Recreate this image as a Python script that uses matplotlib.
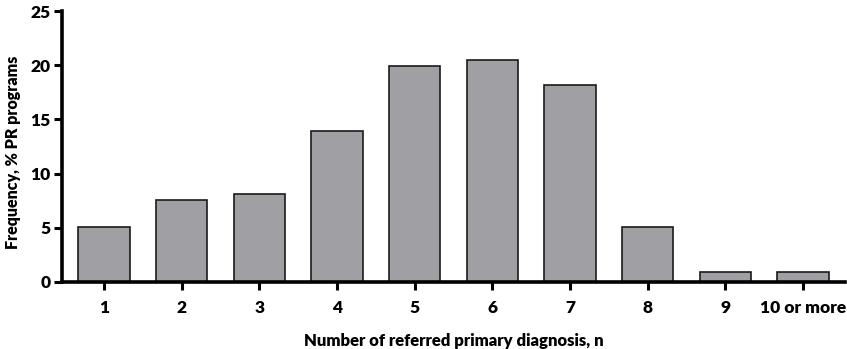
import matplotlib
matplotlib.use("Agg")
import matplotlib.pyplot as plt

categories = ["1", "2", "3", "4", "5", "6", "7", "8", "9", "10 or more"]
frequency = [5.1, 7.6, 8.1, 13.9, 19.9, 20.5, 18.2, 5.1, 0.9, 0.9]
y_ticks = [0, 5, 10, 15, 20, 25]

plt.rcParams["font.family"] = ["Lato", "DejaVu Sans"]
plt.rcParams["font.weight"] = "bold"

fig = plt.figure(figsize=(8.47, 3.49), dpi=100)
ax = fig.add_axes([62 / 847, 67 / 349, 783 / 847, 271 / 349])

positions = list(range(1, len(categories) + 1))
ax.bar(positions, frequency, width=0.66, color="#a09fa4",
       edgecolor="#1a1a1a", linewidth=1.2)

ax.set_xlim(0.46, 10.54)
ax.set_ylim(0, 25)
ax.set_xticks(positions)
ax.set_xticklabels(categories)
ax.set_yticks(y_ticks)

for s in ("top", "right"):
    ax.spines[s].set_visible(False)
for s in ("left", "bottom"):
    ax.spines[s].set_linewidth(2.6)

ax.tick_params(axis="y", direction="out", length=6, width=2.2,
               labelsize=12.5, pad=2)
ax.tick_params(axis="x", direction="out", length=6, width=2.2,
               labelsize=12.5, pad=7)
for lbl in ax.get_xticklabels() + ax.get_yticklabels():
    lbl.set_fontweight("heavy")

ax.set_xlabel("Number of referred primary diagnosis, n", fontsize=12,
              fontweight="heavy", labelpad=12)
ax.set_ylabel("Frequency, % PR programs", fontsize=11.5,
              fontweight="heavy", labelpad=5)
ax.yaxis.set_label_coords(-0.053, 0.48)

fig.savefig("out.png", dpi=100)
